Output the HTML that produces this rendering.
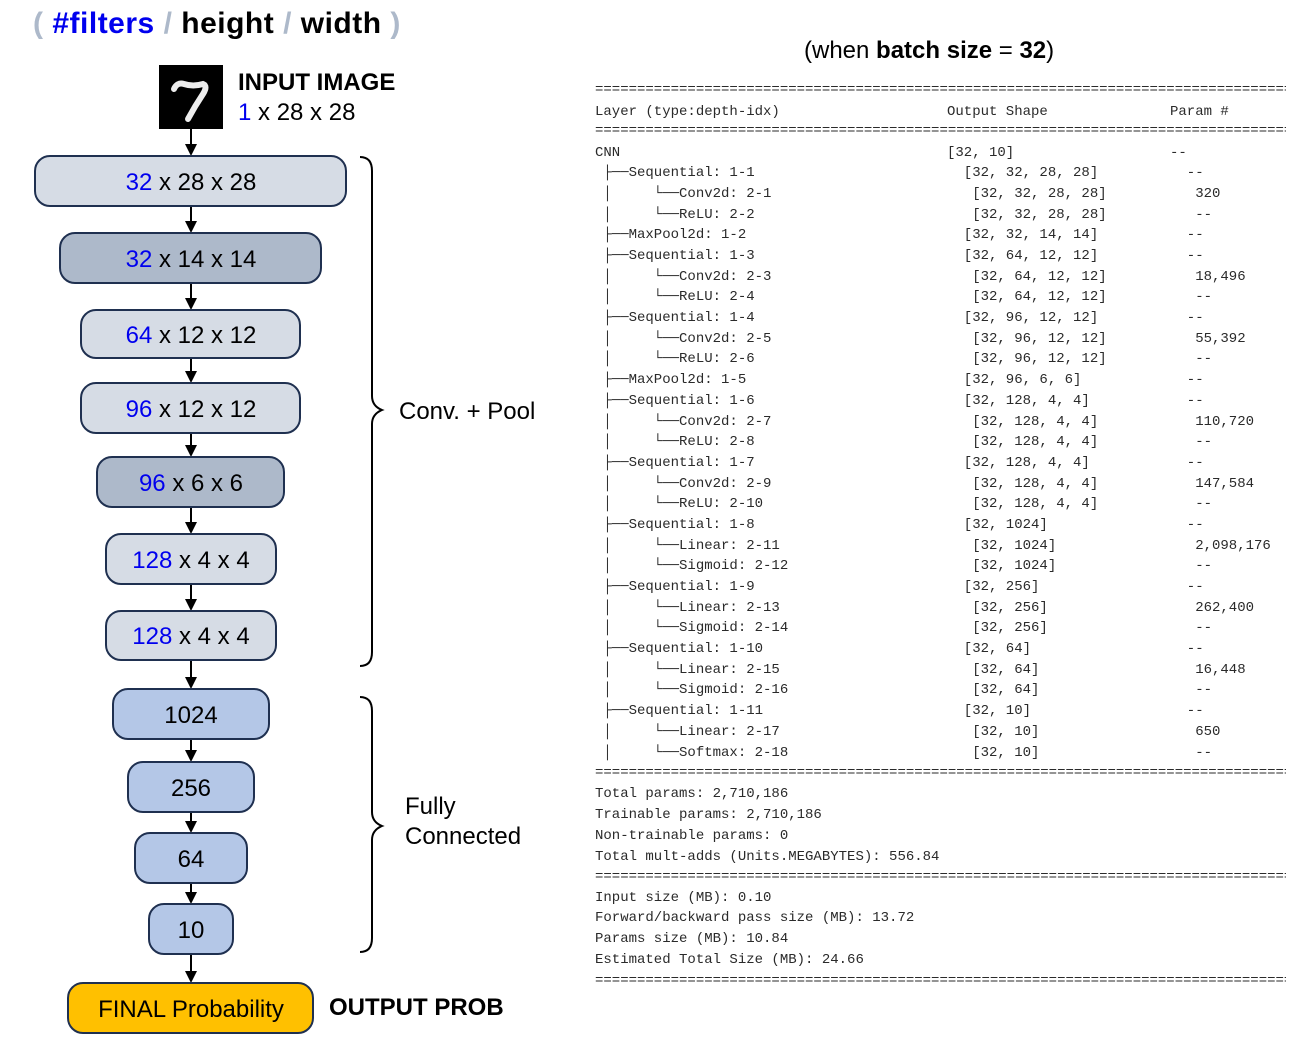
<!DOCTYPE html>
<html><head><meta charset="utf-8">
<style>
body{margin:0;width:1303px;height:1049px;background:#fff;position:relative;overflow:hidden;font-family:"Liberation Sans","Noto Sans CJK KR",sans-serif;}
.abs{position:absolute;white-space:nowrap;}
pre{margin:0;position:absolute;font-family:"Liberation Mono","DejaVu Sans Mono",monospace;font-size:14px;color:#2a2a2a;}
.sep{left:595px;width:691px;overflow:hidden;line-height:10px;letter-spacing:0px;}
</style></head><body>
<div class="abs" style="left:33px;top:5px;font-size:30px;font-weight:bold;line-height:38px;letter-spacing:0.5px;">
<span style="color:#adb9ca">(</span> <span style="color:#0000ee">#filters</span> <span style="color:#adb9ca">/</span> height <span style="color:#adb9ca">/</span> width <span style="color:#adb9ca">)</span></div>
<div class="abs" style="left:804px;top:36px;font-size:24px;line-height:30px;">(when <b>batch size</b> = <b>32</b>)</div>

<svg class="abs" style="left:0;top:0" width="600" height="1049" xmlns="http://www.w3.org/2000/svg" font-family="Liberation Sans, sans-serif">
<rect x="159" y="65" width="64" height="64" fill="#000"/>
<path d="M174,89 q3,-7 10,-5 q9,3 19,0 q5,2 0,10 q-8,12 -15,25" stroke="#eee" stroke-width="6" fill="none" stroke-linecap="round"/>
<g stroke="#000" stroke-width="2">
<line x1="191" y1="129" x2="191" y2="146"/>
<line x1="191" y1="206" x2="191" y2="223"/>
<line x1="191" y1="283" x2="191" y2="300"/>
<line x1="191" y1="358" x2="191" y2="373"/>
<line x1="191" y1="433" x2="191" y2="447"/>
<line x1="191" y1="507" x2="191" y2="524"/>
<line x1="191" y1="584" x2="191" y2="601"/>
<line x1="191" y1="660" x2="191" y2="679"/>
<line x1="191" y1="739" x2="191" y2="752"/>
<line x1="191" y1="812" x2="191" y2="823"/>
<line x1="191" y1="883" x2="191" y2="894"/>
<line x1="191" y1="954" x2="191" y2="973"/>
</g>
<g fill="#000">
<polygon points="185,144 197,144 191,156"/>
<polygon points="185,221 197,221 191,233"/>
<polygon points="185,298 197,298 191,310"/>
<polygon points="185,371 197,371 191,383"/>
<polygon points="185,445 197,445 191,457"/>
<polygon points="185,522 197,522 191,534"/>
<polygon points="185,599 197,599 191,611"/>
<polygon points="185,677 197,677 191,689"/>
<polygon points="185,750 197,750 191,762"/>
<polygon points="185,821 197,821 191,833"/>
<polygon points="185,892 197,892 191,904"/>
<polygon points="185,971 197,971 191,983"/>
</g>
<g stroke="#1f3050" stroke-width="2">
<rect x="35" y="156" width="311" height="50" rx="15" fill="#d6dce5"/>
<rect x="60" y="233" width="261" height="50" rx="15" fill="#adb9ca"/>
<rect x="81" y="310" width="219" height="48" rx="15" fill="#d6dce5"/>
<rect x="81" y="383" width="219" height="50" rx="15" fill="#d6dce5"/>
<rect x="97" y="457" width="187" height="50" rx="15" fill="#adb9ca"/>
<rect x="106" y="534" width="170" height="50" rx="15" fill="#d6dce5"/>
<rect x="106" y="611" width="170" height="49" rx="15" fill="#d6dce5"/>
<rect x="113" y="689" width="156" height="50" rx="15" fill="#b4c7e7"/>
<rect x="128" y="762" width="126" height="50" rx="15" fill="#b4c7e7"/>
<rect x="135" y="833" width="112" height="50" rx="15" fill="#b4c7e7"/>
<rect x="149" y="904" width="84" height="50" rx="15" fill="#b4c7e7"/>
<rect x="68" y="983" width="245" height="50" rx="15" fill="#ffc000"/>
</g>
<g font-size="24" text-anchor="middle" fill="#000">
<text x="191" y="190"><tspan fill="#0000ee">32</tspan> x 28 x 28</text>
<text x="191" y="267"><tspan fill="#0000ee">32</tspan> x 14 x 14</text>
<text x="191" y="343"><tspan fill="#0000ee">64</tspan> x 12 x 12</text>
<text x="191" y="417"><tspan fill="#0000ee">96</tspan> x 12 x 12</text>
<text x="191" y="491"><tspan fill="#0000ee">96</tspan> x 6 x 6</text>
<text x="191" y="568"><tspan fill="#0000ee">128</tspan> x 4 x 4</text>
<text x="191" y="644"><tspan fill="#0000ee">128</tspan> x 4 x 4</text>
<text x="191" y="723">1024</text>
<text x="191" y="796">256</text>
<text x="191" y="867">64</text>
<text x="191" y="938">10</text>
<text x="191" y="1017">FINAL Probability</text>
</g>
<text x="238" y="90" font-size="24" font-weight="bold">INPUT IMAGE</text>
<text x="238" y="120" font-size="24"><tspan fill="#0000ee">1</tspan> x 28 x 28</text>
<text x="329" y="1015" font-size="24" font-weight="bold">OUTPUT PROB</text>
<text x="399" y="419" font-size="24">Conv. + Pool</text>
<text x="405" y="814" font-size="24">Fully</text>
<text x="405" y="844" font-size="24">Connected</text>
<g stroke="#000" stroke-width="2" fill="none">
<path d="M360,157 q12,0 12,14 L372,396 q0,10 10,14 q-10,4 -10,14 L372,652 q0,14 -12,14"/>
<path d="M360,697 q12,0 12,14 L372,812 q0,10 10,14 q-10,4 -10,14 L372,938 q0,14 -12,14"/>
</g>
</svg>

<pre class="sep" style="top:85px">==========================================================================================</pre>
<pre class="sep" style="top:126px">==========================================================================================</pre>
<pre class="sep" style="top:768px">==========================================================================================</pre>
<pre class="sep" style="top:872px">==========================================================================================</pre>
<pre class="sep" style="top:976px">==========================================================================================</pre>
<pre style="left:595px;top:103px;line-height:18px">Layer (type:depth-idx)</pre>
<pre style="left:947px;top:103px;line-height:18px">Output Shape</pre>
<pre style="left:1170px;top:103px;line-height:18px">Param #</pre>
<pre style="left:595px;top:142.6px;line-height:20.69px">CNN
 ├──Sequential: 1-1
 │     └──Conv2d: 2-1
 │     └──ReLU: 2-2
 ├──MaxPool2d: 1-2
 ├──Sequential: 1-3
 │     └──Conv2d: 2-3
 │     └──ReLU: 2-4
 ├──Sequential: 1-4
 │     └──Conv2d: 2-5
 │     └──ReLU: 2-6
 ├──MaxPool2d: 1-5
 ├──Sequential: 1-6
 │     └──Conv2d: 2-7
 │     └──ReLU: 2-8
 ├──Sequential: 1-7
 │     └──Conv2d: 2-9
 │     └──ReLU: 2-10
 ├──Sequential: 1-8
 │     └──Linear: 2-11
 │     └──Sigmoid: 2-12
 ├──Sequential: 1-9
 │     └──Linear: 2-13
 │     └──Sigmoid: 2-14
 ├──Sequential: 1-10
 │     └──Linear: 2-15
 │     └──Sigmoid: 2-16
 ├──Sequential: 1-11
 │     └──Linear: 2-17
 │     └──Softmax: 2-18</pre>
<pre style="left:947px;top:142.6px;line-height:20.69px">[32, 10]
  [32, 32, 28, 28]
   [32, 32, 28, 28]
   [32, 32, 28, 28]
  [32, 32, 14, 14]
  [32, 64, 12, 12]
   [32, 64, 12, 12]
   [32, 64, 12, 12]
  [32, 96, 12, 12]
   [32, 96, 12, 12]
   [32, 96, 12, 12]
  [32, 96, 6, 6]
  [32, 128, 4, 4]
   [32, 128, 4, 4]
   [32, 128, 4, 4]
  [32, 128, 4, 4]
   [32, 128, 4, 4]
   [32, 128, 4, 4]
  [32, 1024]
   [32, 1024]
   [32, 1024]
  [32, 256]
   [32, 256]
   [32, 256]
  [32, 64]
   [32, 64]
   [32, 64]
  [32, 10]
   [32, 10]
   [32, 10]</pre>
<pre style="left:1170px;top:142.6px;line-height:20.69px">--
  --
   320
   --
  --
  --
   18,496
   --
  --
   55,392
   --
  --
  --
   110,720
   --
  --
   147,584
   --
  --
   2,098,176
   --
  --
   262,400
   --
  --
   16,448
   --
  --
   650
   --</pre>
<pre style="left:595px;top:783.5px;line-height:21px">Total params: 2,710,186
Trainable params: 2,710,186
Non-trainable params: 0
Total mult-adds (Units.MEGABYTES): 556.84</pre>
<pre style="left:595px;top:887.5px;line-height:20.7px">Input size (MB): 0.10
Forward/backward pass size (MB): 13.72
Params size (MB): 10.84
Estimated Total Size (MB): 24.66</pre>
</body></html>
